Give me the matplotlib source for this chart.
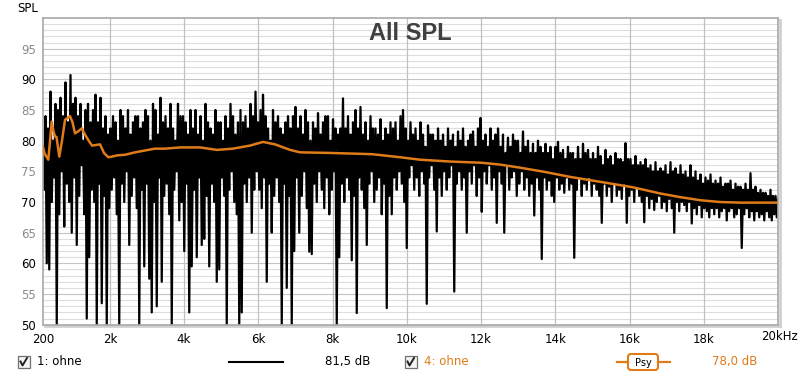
import numpy as np
import matplotlib
matplotlib.use("Agg")
import matplotlib.pyplot as plt
from matplotlib.patches import Rectangle, FancyBboxPatch

# ---------------- data ----------------
# measured SPL trace (dB): local maxima and local minima read from the picture,
# alternating along an even frequency grid from 200 Hz to 20 kHz
spl_peaks = [
    79, 84, 82, 88, 80, 86, 85, 87, 84, 89.5, 83, 90.7, 86, 87, 84, 86, 80, 85, 86, 83,
    85, 87.5, 83, 87, 82, 84, 81, 82, 84, 83, 80, 85, 84, 82, 85, 81, 83, 84, 84, 82,
    83, 85, 84, 80, 86, 85, 81, 87, 83, 84, 82, 86, 82, 80, 86, 84, 84, 83, 81, 85,
    82, 85, 81, 84, 80, 86, 83, 82, 81, 85, 83, 83, 80, 84, 82, 86, 84, 81, 83, 85,
    83, 84, 82, 86, 84, 88, 83, 85, 87.5, 84, 82, 80, 85, 83, 84, 82, 81, 83, 84, 82,
    84, 85.5, 82, 84, 81, 85, 83, 80, 83, 82, 84.5, 81, 83, 84, 84, 80, 83.5, 82, 81, 82,
    86.9, 82, 84, 81, 83, 85, 82, 85.5, 81, 83, 80, 84, 82, 82, 81, 83.5, 80, 82, 81, 83,
    82, 83, 80, 84, 85, 82, 80, 83, 81, 82, 80, 83, 81, 79, 82.5, 81, 81, 80, 82, 80,
    81, 79, 82, 80, 81, 79, 81.5, 80, 82, 79, 80, 81, 81.5, 79, 82, 83.7, 80, 81, 79, 82,
    80, 81, 82, 79, 81, 78, 80.5, 79, 81, 80, 80, 78, 81.5, 79, 80, 78, 79.5, 78, 80, 79,
    78, 79.5, 78, 79, 77, 79, 79.8, 78, 78.5, 77, 79, 78, 78, 77, 79, 77, 79.5, 78, 78.5, 77,
    78, 77, 79, 77.5, 76, 78.5, 77, 77.5, 76, 78, 77, 77, 76.5, 79.6, 77, 77, 76, 77.5, 76, 76.5,
    76, 77, 75.5, 76, 75, 76.5, 75, 75.5, 75, 76, 74.5, 76.5, 75, 75.5, 74.5, 76, 74.5, 75, 74, 76,
    74, 75, 73.5, 74.5, 73, 74, 73.5, 74.5, 73, 73.5, 73, 74, 72.5, 73, 73, 73.5, 72, 73, 72.5, 72.5,
    72, 73, 72, 74.7, 72, 72.5, 71.5, 72, 71.5, 71.5, 71, 72, 71, 71, 70.5,
]
spl_troughs = [
    72, 60, 59, 70, 74, 50, 68, 75, 66, 73, 70, 65, 74, 63, 71, 76, 68, 51, 61, 72,
    70, 50, 73, 53.5, 71, 50, 69, 72, 74, 68, 50, 73, 70, 75, 63, 71, 74, 69, 50, 72,
    59.5, 73, 57.5, 52, 70, 53, 74, 57, 71, 73, 68, 50, 72, 75, 67, 70, 62, 73, 52, 59.5,
    72, 61, 74, 63, 64, 71, 59.5, 73, 70, 57, 59, 74, 71, 50, 72, 75, 70, 68, 50, 52,
    73, 70, 74, 65, 72, 75, 72, 69, 74, 57, 73, 65, 71, 74, 70, 50, 73, 56, 71, 50,
    62, 74, 65, 71, 75, 69, 61.9, 61.5, 73, 70, 75, 72, 69, 74, 68, 72, 75, 50, 61, 73,
    70, 74, 72, 60.5, 71, 51.9, 74, 72, 69, 63, 73, 75, 70, 72, 74, 68, 73, 52.7, 71, 68,
    74, 72, 75, 73, 70, 62.5, 74, 76, 72, 74, 71, 75, 73, 53.4, 74, 76, 72, 65.2, 74, 71,
    75, 72, 74, 76, 55.4, 73, 75, 72, 74, 65, 75, 73, 76, 71, 74, 68.4, 75, 73, 76, 72,
    74, 66.6, 75, 73, 65, 76, 72, 74, 75, 71, 73, 75, 72, 74, 71, 73, 67.8, 74, 72, 60.7,
    74, 72, 73.5, 71, 70, 74, 72, 73, 71.5, 74, 72, 73, 60.9, 72, 74, 71, 73, 72, 74, 71,
    73, 72, 71, 66.6, 73, 71, 72.5, 70, 73, 71, 72, 70.5, 73, 66.6, 71, 72, 70, 72.5, 71, 70,
    66.7, 71, 69, 70.5, 68.7, 70, 71, 69, 70, 68.5, 70.5, 69, 65, 70, 68.5, 70, 69.5, 68.5, 70, 66.5,
    69, 68, 69.5, 67.5, 69, 68.5, 67.5, 69, 68, 69, 67.5, 68.5, 69, 67, 68.5, 69, 67.5, 68, 69, 62.5,
    68, 69, 67.5, 68.5, 67, 68.5, 67.5, 68, 67, 68.5, 67.5, 67, 68, 67.5,
]

# psychoacoustic smoothed curve
psy_freq = [200, 240, 281, 343, 389, 434, 483, 523, 564, 639, 712, 793, 927, 995, 1062,
            1143, 1243, 1331, 1420, 1520, 1628, 1736, 1843, 1959, 2059, 2193, 2409, 2678,
            2948, 3217, 3487, 3891, 4429, 4887, 5318, 5776, 6127, 6450, 6854, 7123, 7932,
            9063, 9817, 10356, 11164, 12026, 12511, 13050, 13723, 14397, 15205, 16094,
            16822, 17360, 17899, 18438, 18977, 20000]
psy_values = [79.0, 78.0, 77.5, 76.9, 80.0, 83.1, 81.5, 80.7, 80.6, 77.4, 80.0, 83.4, 84.0,
              83.0, 81.2, 81.5, 82.0, 81.0, 80.1, 79.2, 79.3, 79.4, 78.0, 77.3, 77.4, 77.6,
              77.7, 78.1, 78.4, 78.7, 78.7, 78.9, 78.9, 78.5, 78.7, 79.2, 79.8, 79.4, 78.5,
              78.1, 78.0, 77.8, 77.3, 76.9, 76.6, 76.4, 76.1, 75.6, 74.9, 74.1, 73.3, 72.4,
              71.4, 70.8, 70.3, 70.0, 69.9, 69.9]

x_ticks = [200, 2000, 4000, 6000, 8000, 10000, 12000, 14000, 16000, 18000, 20000]
x_tick_labels = ["200", "2k", "4k", "6k", "8k", "10k", "12k", "14k", "16k", "18k", ""]
y_ticks = [50, 55, 60, 65, 70, 75, 80, 85, 90, 95]

title = "All SPL"
legend1_name, legend1_value = "1: ohne", "81,5 dB"
legend2_name, legend2_value = "4: ohne", "78,0 dB"

ORANGE = "#e07b1a"
W, H = 800, 376

# interleave peaks and troughs into one trace
spl_values = []
for k, p in enumerate(spl_peaks):
    spl_values.append(p)
    if k < len(spl_troughs):
        spl_values.append(spl_troughs[k])
spl_freq = np.linspace(200, 20000, len(spl_values))

# ---------------- figure ----------------
fig = plt.figure(figsize=(W / 100, H / 100), dpi=100)
fig.patch.set_facecolor("white")

L, R, T, B = 43, 778, 18, 324.7
ax = fig.add_axes([L / W, 1 - B / H, (R - L) / W, (B - T) / H])
ax.set_xlim(200, 20000)
ax.set_ylim(50, 100)
ax.set_facecolor("white")

# grid
for v in range(51, 100):
    ax.axhline(v, color="#dddddd" if v % 5 else "#c4c4c4", lw=0.8, zorder=0)
for xt in x_ticks[1:-1]:
    ax.axvline(xt, color="#c0c0c0", lw=0.9, zorder=0)

ax.plot(spl_freq, spl_values, color="black", lw=1.6, zorder=2)
ax.plot(psy_freq, psy_values, color=ORANGE, lw=1.8, zorder=3)

ax.set_xticks(x_ticks)
ax.set_xticklabels(x_tick_labels, fontsize=8.5, family="DejaVu Sans")
ax.set_yticks(y_ticks)
ax.set_yticklabels([str(v) for v in y_ticks], fontsize=8.5, family="DejaVu Sans")
for lab, v in zip(ax.get_yticklabels(), y_ticks):
    lab.set_color("black" if v % 10 == 0 else "#8a8a8a")
ax.tick_params(axis="both", length=0)
ax.tick_params(axis="x", pad=6)
ax.tick_params(axis="y", pad=5)
for s in ax.spines.values():
    s.set_color("#a8a8a8")
    s.set_linewidth(1.2)

ax.text(0.5, 0.95, title, transform=ax.transAxes, ha="center", va="center",
        fontsize=17, fontweight="bold", color="#404040", family="Liberation Sans",
        zorder=5)

# overlay in pixel coords
ov = fig.add_axes([0, 0, 1, 1], zorder=-1)
ov.set_xlim(0, W)
ov.set_ylim(H, 0)
ov.axis("off")
# frame shadow
ov.plot([R + 1.5, R + 1.5], [T + 2, B + 1.5], color="#d0d0d0", lw=2)
ov.plot([L + 2, R + 1.5], [B + 1.5, B + 1.5], color="#d0d0d0", lw=2)

ov2 = fig.add_axes([0, 0, 1, 1], zorder=5)
ov2.set_xlim(0, W)
ov2.set_ylim(H, 0)
ov2.axis("off")
ov2.text(28, 8, "SPL", ha="center", va="center", fontsize=8.5, family="DejaVu Sans")
ov2.text(779.5, 336, "20kHz", ha="center", va="center", fontsize=8.5, family="DejaVu Sans")


def checkbox(x, y):
    ov2.add_patch(Rectangle((x, y), 12, 12, facecolor="#f4f4f4", edgecolor="#707070", lw=0.9))
    ov2.plot([x + 3, x + 5, x + 9.5], [y + 6, y + 10, y + 2.5], color="#222222", lw=1.4)


ly = 361.5
checkbox(17.5, ly - 6)
ov2.text(37, ly, legend1_name, ha="left", va="center", fontsize=8.5, family="DejaVu Sans")
ov2.plot([229, 283], [ly, ly], color="black", lw=1.5)
ov2.text(325, ly, legend1_value, ha="left", va="center", fontsize=8.5, family="DejaVu Sans")

checkbox(404.5, ly - 6)
ov2.text(424, ly, legend2_name, ha="left", va="center", fontsize=8.5, family="DejaVu Sans", color=ORANGE)
ov2.plot([616.5, 628], [ly, ly], color=ORANGE, lw=1.6)
ov2.plot([658, 669.5], [ly, ly], color=ORANGE, lw=1.6)
ov2.add_patch(FancyBboxPatch((628, 354), 30, 16, boxstyle="round,pad=0,rounding_size=3",
                             facecolor="white", edgecolor=ORANGE, lw=1.5))
ov2.text(643, 362.5, "Psy", ha="center", va="center", fontsize=7, family="DejaVu Sans")
ov2.text(712, ly, legend2_value, ha="left", va="center", fontsize=8.5, family="DejaVu Sans", color=ORANGE)

fig.savefig("out.png", dpi=100, facecolor="white")
